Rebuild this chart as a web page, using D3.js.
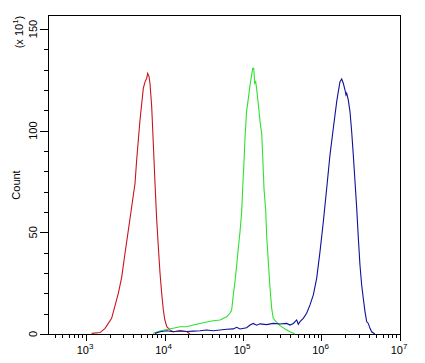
<!DOCTYPE html>
<html>
<head>
<meta charset="utf-8">
<script src="https://cdn.jsdelivr.net/npm/d3@7"></script>
<style>
  body { margin: 0; background: #fff; }
  text { font-family: "Liberation Sans", Arial, sans-serif; fill: #000; }
</style>
</head>
<body>
<svg id="chart"></svg>
<script>
const width = 425;
const height = 363;

// fluorescence intensity (x) and count (x10)
const redX = [1180, 1510, 1750, 2120, 2580, 2850, 3140, 3460, 3820, 4210, 4420, 4640, 4870, 5130, 5370, 5650, 5930, 6110, 6350, 6530, 6870, 7200, 7570, 7960, 8340, 8770, 9210, 9660, 10100, 10700, 11700, 12900, 15700, 19200, 21100];
const redY = [0.3, 0.7, 2.8, 7.7, 20, 28, 39.7, 51, 62.6, 74, 85.6, 95.4, 105, 113.5, 120.8, 124, 125.8, 128.2, 126.6, 123.3, 111.8, 93.8, 74, 56, 43, 29.9, 20, 11.8, 6.9, 3.6, 2, 1.1, 1.5, 1.2, 0];

const greenX = [7200, 8770, 10700, 12900, 15700, 19200, 23300, 28300, 34500, 41900, 50900, 61900, 68200, 71700, 75200, 79000, 83100, 87100, 91600, 96200, 99100, 103000, 106000, 111000, 117000, 123000, 129000, 133000, 137000, 141000, 145000, 149000, 157000, 165000, 168000, 173000, 178000, 185000, 195000, 200000, 210000, 221000, 232000, 243000, 263000, 296000, 343000, 397000, 460000];
const greenY = [0.3, 1.5, 2.2, 2.8, 3.6, 3.6, 4.4, 5.2, 5.9, 6.5, 6.9, 8.5, 10.2, 11.8, 19.2, 25.7, 33.9, 42.2, 50.3, 60.2, 71.7, 84.8, 96.3, 109.4, 115.9, 122.5, 127.4, 130.7, 130.7, 123.3, 124.1, 120.8, 112.6, 104.4, 102, 98.7, 88, 71.7, 60.2, 48.7, 35.6, 22.5, 12.6, 7.7, 6.1, 4.1, 2.5, 1.1, 0];

const blueX = [7570, 8770, 10700, 12900, 15700, 19200, 23300, 28300, 34500, 41900, 50900, 61900, 75200, 83100, 91600, 111000, 123000, 135000, 149000, 165000, 200000, 243000, 296000, 360000, 397000, 438000, 483000, 506000, 532000, 586000, 647000, 714000, 787000, 868000, 957000, 1055000, 1165000, 1282000, 1414000, 1562000, 1637000, 1720000, 1808000, 1896000, 1993000, 2051000, 2094000, 2193000, 2306000, 2424000, 2541000, 2673000, 2810000, 2947000, 3090000, 3249000, 3407000, 3581000, 3762000, 3944000, 4147000, 4355000, 4790000];
const blueY = [0.3, 1.1, 1.6, 1.1, 1.6, 1.2, 1.4, 1.6, 2, 1.6, 2, 2.3, 2.5, 3.3, 2.5, 3.1, 4.4, 5.2, 4.3, 5, 4.6, 5.2, 4.9, 5.2, 4.4, 5.2, 6.9, 4.8, 6.1, 7.7, 10.2, 14.3, 19.2, 27.4, 40.5, 55.2, 71.7, 88, 101.2, 114.3, 119.2, 124.1, 125.4, 123.3, 120, 117.6, 118.4, 115.1, 109.4, 99.5, 88, 74.9, 61.8, 47.1, 33.9, 24.1, 17.6, 11, 6.1, 5.2, 2.8, 1.1, 0];

const xTickExps = [3, 4, 5, 6, 7];
const yTicks = [0, 50, 100, 150];

const margin = { left: 48, right: 25, top: 15, bottom: 29 };

const svg = d3.select("#chart")
    .attr("width", width)
    .attr("height", height);

// 10^3 sits at x=86, 10^7 at the right frame
const x = d3.scaleLog()
    .domain([Math.pow(10, 3 - 38 / 78.5), 1e7])
    .range([margin.left, width - margin.right]);

const y = d3.scaleLinear()
    .domain([0, 150 + 14 / (305 / 150)])
    .range([height - margin.bottom, margin.top]);

const x0 = margin.left, x1 = width - margin.right;
const y0 = height - margin.bottom, y1 = margin.top;

// frame
svg.append("rect")
    .attr("x", x0 + 0.5)
    .attr("y", y1 + 0.5)
    .attr("width", x1 - x0)
    .attr("height", y0 - y1)
    .attr("fill", "none")
    .attr("stroke", "#000")
    .attr("stroke-width", 1);

// x ticks (minor 2..9 each decade, longer at decades)
const xMinor = [];
for (let e = 2; e <= 6; e++) {
    for (let m = 1; m <= 9; m++) {
        const v = m * Math.pow(10, e);
        if (v >= x.domain()[0] && v <= 1e7) xMinor.push(v);
    }
}
xMinor.push(1e7);

svg.selectAll(".xtick")
    .data(xMinor)
    .enter().append("line")
    .attr("class", "xtick")
    .attr("x1", d => Math.round(x(d)) + 0.5)
    .attr("x2", d => Math.round(x(d)) + 0.5)
    .attr("y1", y0)
    .attr("y2", d => {
        const l = Math.log10(d);
        return y0 + (Math.abs(l - Math.round(l)) < 1e-9 ? 7 : 4);
    })
    .attr("stroke", "#000");

const xLab = svg.selectAll(".xlab")
    .data(xTickExps)
    .enter().append("text")
    .attr("class", "xlab")
    .attr("x", d => x(Math.pow(10, d)) - 1)
    .attr("y", 354)
    .attr("text-anchor", "middle")
    .attr("font-size", 11);
xLab.append("tspan").text("10");
xLab.append("tspan")
    .attr("dy", -5)
    .attr("font-size", 8)
    .text(d => d);

// y ticks
const yMinor = d3.range(0, 151, 10);
svg.selectAll(".ytick")
    .data(yMinor)
    .enter().append("line")
    .attr("class", "ytick")
    .attr("x1", d => x0 - (d % 50 === 0 ? 8 : 4))
    .attr("x2", x0)
    .attr("y1", d => Math.round(y(d)) + 0.5)
    .attr("y2", d => Math.round(y(d)) + 0.5)
    .attr("stroke", "#000");

svg.selectAll(".ylab")
    .data(yTicks)
    .enter().append("text")
    .attr("class", "ylab")
    .attr("transform", d => `translate(37,${y(d)}) rotate(-90)`)
    .attr("text-anchor", "middle")
    .attr("font-size", 11)
    .text(d => d);

// axis titles
svg.append("text")
    .attr("transform", "translate(20,185) rotate(-90)")
    .attr("text-anchor", "middle")
    .attr("font-size", 11)
    .text("Count");

const mult = svg.append("text")
    .attr("transform", "translate(23,32) rotate(-90)")
    .attr("text-anchor", "middle")
    .attr("font-size", 11);
mult.append("tspan").text("(x 10");
mult.append("tspan").attr("dy", -5).attr("font-size", 8).text("1");
mult.append("tspan").attr("dy", 5).text(")");

// histograms
const series = [
    { xs: redX, ys: redY, color: "#c8141e" },
    { xs: greenX, ys: greenY, color: "#2fe02f" },
    { xs: blueX, ys: blueY, color: "#10109a" }
];

const line = d3.line()
    .x(d => x(d[0]))
    .y(d => y(d[1]));

svg.selectAll(".hist")
    .data(series)
    .enter().append("path")
    .attr("class", "hist")
    .attr("d", s => line(s.xs.map((v, i) => [v, s.ys[i]])))
    .attr("fill", "none")
    .attr("stroke", s => s.color)
    .attr("stroke-width", 1.1);
</script>
</body>
</html>
